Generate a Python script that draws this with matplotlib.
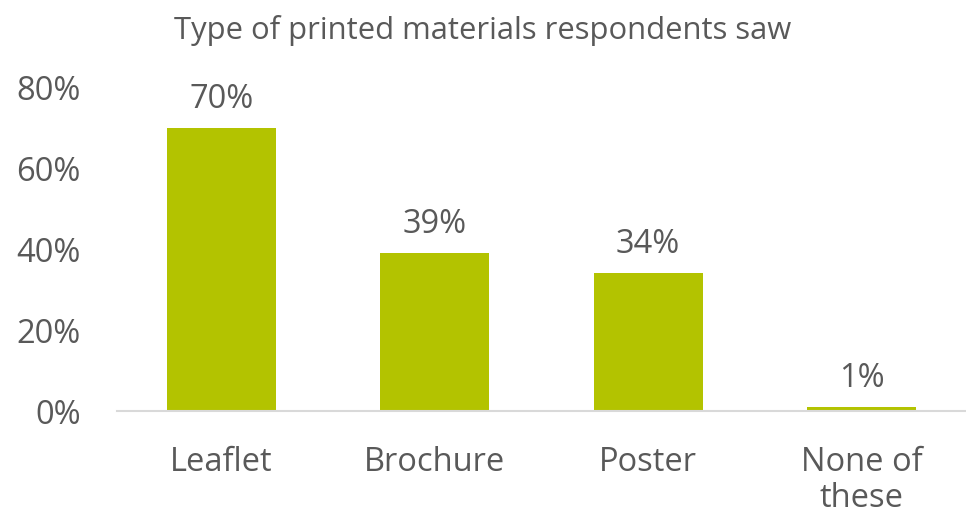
import matplotlib.pyplot as plt

categories = ['Leaflet', 'Brochure', 'Poster', 'None of\nthese']
values = [70, 39, 34, 1]
y_ticks = [0, 20, 40, 60, 80]

plt.rcParams['font.family'] = ['Open Sans', 'DejaVu Sans']
grey = '#595959'

fig = plt.figure(figsize=(9.66, 5.19), dpi=100)
ax = fig.add_axes([0.121, 0.208, 0.879, 0.624])

x = range(len(categories))
bars = ax.bar(x, values, width=0.51, color='#b3c300')
for b, v in zip(bars, values):
    ax.text(b.get_x() + b.get_width() / 2, v + 3, f'{v}%', ha='center', va='bottom',
            fontsize=23.5, color=grey)

ax.set_xlim(-0.49, 3.49)
ax.set_ylim(0, 80)
ax.set_yticks(y_ticks)
ax.set_yticklabels([f'{t}%' for t in y_ticks])
ax.set_xticks(list(x))
ax.set_xticklabels(categories, linespacing=1.12)
ax.tick_params(axis='both', length=0, labelsize=23.5, colors=grey)
ax.tick_params(axis='x', pad=25)
ax.tick_params(axis='y', pad=26)

for s in ['top', 'right', 'left']:
    ax.spines[s].set_visible(False)
ax.spines['bottom'].set_color('#d9d9d9')
ax.spines['bottom'].set_linewidth(1.5)

fig.text(0.5, 0.942, 'Type of printed materials respondents saw', ha='center', va='center',
         fontsize=22.3, color=grey)

fig.savefig('out.png', dpi=100)
